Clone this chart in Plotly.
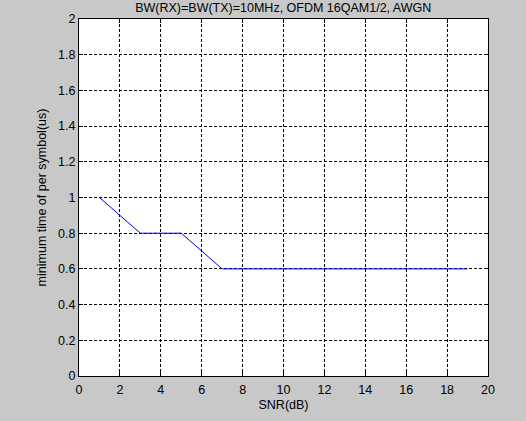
import plotly.graph_objects as go

snr_db = [1, 3, 5, 7, 9, 11, 13, 15, 17, 19]
min_time_us = [1.0, 0.8, 0.8, 0.6, 0.6, 0.6, 0.6, 0.6, 0.6, 0.6]
x_ticks = [0, 2, 4, 6, 8, 10, 12, 14, 16, 18, 20]
y_ticks = [0, 0.2, 0.4, 0.6, 0.8, 1, 1.2, 1.4, 1.6, 1.8, 2]
y_tick_text = ["0", "0.2", "0.4", "0.6", "0.8", "1", "1.2", "1.4", "1.6", "1.8", "2"]

fig = go.Figure()
fig.add_trace(go.Scatter(x=snr_db, y=min_time_us, mode="lines",
                         line=dict(color="#0000ff", width=1), showlegend=False))

font = dict(family="Liberation Sans, Arial, sans-serif", size=12.5, color="#000000")
tfont = dict(family="Liberation Sans, Arial, sans-serif", size=12.5, color="#000000")
axis_common = dict(showline=True, linecolor="black", linewidth=1, mirror="ticks",
                   ticks="inside", ticklen=4, tickcolor="black",
                   showgrid=True, gridcolor="black", gridwidth=1, griddash="3px,2px",
                   zeroline=False, tickfont=tfont)

fig.update_layout(
    width=526, height=421,
    margin=dict(l=79, r=38, t=19, b=45),
    paper_bgcolor="#c8c8c8", plot_bgcolor="white",
    title=dict(text="BW(RX)=BW(TX)=10MHz, OFDM 16QAM1/2, AWGN", x=0.5385, xanchor="center",
               y=1 - 8 / 421, yanchor="middle", font=font),
    xaxis=dict(range=[0, 20], tickvals=x_ticks, ticklabelstandoff=2,
               title=dict(text="SNR(dB)", font=font, standoff=4),
               **axis_common),
    yaxis=dict(range=[0, 2], tickvals=y_ticks, ticktext=y_tick_text,
               title=dict(text="minimum time of per symbol(us)", font=font, standoff=8),
               **axis_common),
)

fig.write_html("out.html")
